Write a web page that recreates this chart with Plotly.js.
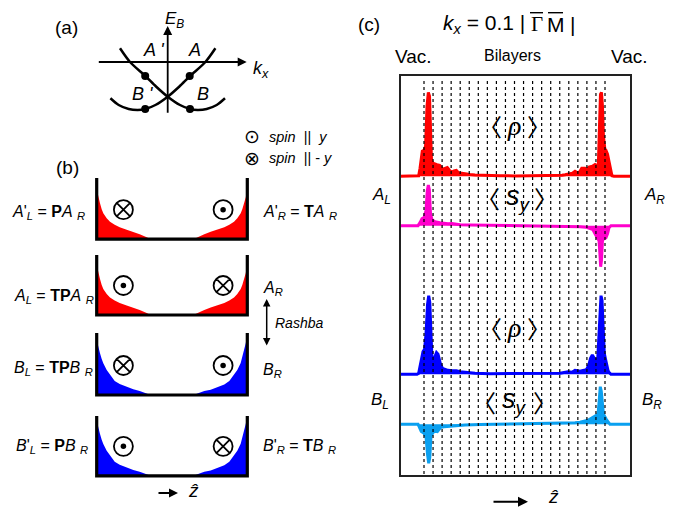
<!DOCTYPE html>
<html><head><meta charset="utf-8">
<script src="https://cdn.plot.ly/plotly-3.0.1.min.js"></script>
<style>html,body{margin:0;padding:0;background:#fff}</style>
</head><body><div id="chart" style="width:673px;height:510px"></div>
<script>
// ---------------- DATA ----------------
// (a) schematic Rashba-split bands: k_x and E_B (schematic units)
const bandOneK = [-0.954,-0.754,-0.448,-0.234,0,0.246,0.446,0.6,0.78,0.98,1.146];
const bandOneE = [0.274,0,-0.28,-0.49,-0.694,-0.86,-0.94,-0.96,-0.94,-0.86,-0.726];
const bandTwoK = [0.954,0.754,0.448,0.234,0,-0.246,-0.446,-0.6,-0.78,-0.98,-1.146];
const bandTwoE = [0.274,0,-0.28,-0.49,-0.694,-0.86,-0.94,-0.96,-0.94,-0.86,-0.726];
const stateK = [-0.45,0.44,-0.45,0.446];
const stateE = [-0.28,-0.28,-0.94,-0.94];
const stateNames = ["A '","A","B '","B"];
const stateLabelK = [-0.294,0.526,-0.514,0.706];
const stateLabelE = [0.24,0.24,-0.64,-0.64];

// (b) schematic surface-state densities across the slab (z along slab)
const wellZ = [0,1.5,3.3,5,6.6,10,13.3,18,23,30,36.6,43,50,54,96.6,100.6,107.6,114,120.6,127.6,132.6,137.3,140.6,144,145.6,147.3,149.1,150.6];
const redWellH = [50,42,36,30,26,21,17.5,14.5,12,9.5,7.5,5,2,0,0,2,5,7.5,9.5,12,14.5,17.5,21,26,30,36,42,52];
const blueWellH = [55,48,41.7,36,31.7,25,20,14,11,8,5.7,4,1.5,0,0,1.5,4,5.2,7.5,10.5,14,20,25,32,38,45,52,60];
const spinZ = [26.7,126.4];
const spinH = [29.5,29.5];
const wellSpins = [["-y","+y"],["+y","-y"],["-y","+y"],["+y","-y"]];

// (c) k_x = 0.1|GM| : density and spin profiles versus z (bilayer units)
const bilayerBoundaries = [0,1,2,3,4,5,6,7,8,9,10,11,12,13,14,15,16,17,18,19,20];
const zRhoA = [-2.65,-0.77,-0.59,-0.44,-0.28,-0.19,0,0.17,0.33,0.48,0.61,0.72,0.83,0.99,1.22,1.44,1.73,1.93,2.1,2.32,2.57,2.82,3.02,3.31,3.57,3.81,4.09,4.53,5.08,5.64,6.19,7.3,8.4,10.06,11.7,13.37,14.48,15.25,15.58,16.13,16.41,16.69,16.9,17.05,17.24,17.43,17.79,18.01,18.23,18.6,18.9,19.12,19.26,19.39,19.5,19.61,19.72,19.83,20.0,20.1,20.28,20.44,20.61,20.77,20.99,22.87];
const rhoA = [0,0,0.5,8,20,25,26,30,70,84,80,40,16,13,12,11.7,11,9,7,8,8.7,6,4,5.5,6,3.5,3,2.5,1.7,1.3,1,0.7,0.5,0.4,0.5,0.6,0.8,1,1.5,2,3,5,3.5,3,5,8,8,6.5,9.3,10,11.7,11,10,50,82,84,70,40,26,26,22,15,5,0.5,0,0];
const zSyA = [-2.65,-0.66,-0.44,-0.22,0,0.22,0.36,0.48,0.59,0.72,0.88,1.22,1.77,2.21,2.65,3.09,3.54,3.98,5.08,7.3,10.6,13.9,16.13,17.24,17.9,18.34,18.67,18.9,19.12,19.34,19.45,19.52,19.61,19.72,19.89,20.1,20.28,20.44,20.66,22.87];
const syA = [0,0,3,7,8,15,35,40.7,36,12,6,4,3,2.5,2,2.3,1.5,1,0.7,0.4,0.2,0,-0.5,-1,-1.5,-2.5,-4,-8,-12,-15,-30,-41,-35,-15,-12,-12,-8,-2,0,0];
const zRhoB = [-2.65,-0.77,-0.59,-0.36,-0.22,-0.11,0.06,0.22,0.39,0.52,0.64,0.77,0.88,1.05,1.22,1.38,1.55,1.71,1.85,2.04,2.29,2.65,3.09,3.57,3.98,4.53,5.64,7.3,10.06,12.82,14.48,15.03,15.91,16.35,16.69,17.24,17.68,17.98,18.23,18.4,18.6,18.78,18.95,19.2,19.34,19.45,19.56,19.67,19.78,19.92,20.06,20.19,20.33,20.44,20.66,22.87];
const rhoB = [0,0,1,12,20,22.7,25,40,70,78.6,72,35,16,14,18,21.7,20,14,9.3,6,5,4,3.5,3.5,2.5,2,1,0.6,0.5,0.5,0.7,1,2.5,2,4,3,4,5,10,16,19.3,17,14,16,40,70,78.6,74,45,21,15,7.7,4,2,0,0];
const zSyB = [-2.65,-0.66,-0.5,-0.3,0,0.22,0.39,0.52,0.64,0.77,0.99,1.22,1.47,1.66,1.85,2.21,2.65,3.09,3.54,4.53,6.19,8.4,12.82,15.03,16.69,17.24,17.79,18.12,18.49,18.86,19.23,19.37,19.48,19.59,19.72,19.83,20.14,20.33,20.55,22.87];
const syB = [0,0,-3,-7.3,-9,-12,-30,-39,-33,-12,-8.3,-7,-7.3,-5,-3,-2.5,-2,-1.5,-1,-0.6,-0.3,0,0.3,0.7,1.5,2,3,4,6,8,10,25,37.6,33,15,10,5,2,0,0];

// ---------------- LAYOUT HELPERS ----------------
const W = 673, H = 510;
const px = p => p / W;
const py = p => 1 - p / H;
function hAxis(leftPx, rightPx, originPx, pxPerUnit, anchor) {
  return {domain:[px(leftPx), px(rightPx)], range:[(leftPx-originPx)/pxPerUnit, (rightPx-originPx)/pxPerUnit],
          visible:false, fixedrange:true, anchor:anchor};
}
function vAxis(topPx, bottomPx, originPx, pxPerUnit, anchor) {
  return {domain:[py(bottomPx), py(topPx)], range:[(originPx-bottomPx)/pxPerUnit, (originPx-topPx)/pxPerUnit],
          visible:false, fixedrange:true, anchor:anchor};
}
const FONT = "Arial, 'Liberation Sans', sans-serif";
const CJK = "'Noto Sans CJK JP'";

// ---------------- TRACES ----------------
const traces = [];
// (a)
[[bandOneK, bandOneE],[bandTwoK, bandTwoE]].forEach(([k,e]) => traces.push({
  x:k, y:e, xaxis:'x', yaxis:'y', mode:'lines', line:{color:'black', width:2.5, shape:'spline', smoothing:0.8},
  hoverinfo:'skip', cliponaxis:false
}));
traces.push({x:stateK, y:stateE, xaxis:'x', yaxis:'y', mode:'markers', marker:{color:'black', size:8}, cliponaxis:false});

// (b)
const wellColors = ['#ff0000','#ff0000','#0000ff','#0000ff'];
const wellProfiles = [redWellH, redWellH, blueWellH, blueWellH];
for (let i = 0; i < 4; i++) {
  const ya = 'y' + (i + 2);
  traces.push({x:wellZ, y:wellProfiles[i], xaxis:'x2', yaxis:ya, mode:'lines', fill:'tozeroy',
    fillcolor:wellColors[i], line:{width:0, color:wellColors[i]}, hoverinfo:'skip'});
  traces.push({x:spinZ, y:spinH, xaxis:'x2', yaxis:ya, mode:'markers', cliponaxis:false,
    marker:{size:19, color:'black', symbol:wellSpins[i].map(s => s === '+y' ? 'circle-open' : 'circle-x-open'),
            line:{width:1.8, color:'black'}}});
  const dz = spinZ.filter((z, j) => wellSpins[i][j] === '+y');
  const dh = spinH.filter((h, j) => wellSpins[i][j] === '+y');
  traces.push({x:dz, y:dh, xaxis:'x2', yaxis:ya, mode:'markers', cliponaxis:false,
    marker:{size:5.5, color:'black', symbol:'circle'}});
}

// (c)
const cSeries = [[zRhoA, rhoA, '#ff0000', 'y6'], [zSyA, syA, '#ff00cc', 'y7'],
                 [zRhoB, rhoB, '#0000ff', 'y8'], [zSyB, syB, '#0aa0f0', 'y9']];
cSeries.forEach(([z, v, c, ya]) => traces.push({
  x:z, y:v, xaxis:'x3', yaxis:ya, mode:'lines', fill:'tozeroy', fillcolor:c,
  line:{color:c, width:3}, hoverinfo:'skip'
}));

// ---------------- SHAPES ----------------
const shapes = [];
shapes.push({type:'rect', xref:'paper', yref:'paper', x0:px(400), x1:px(631), y0:py(476), y1:py(75),
  line:{color:'#222', width:2}});
bilayerBoundaries.forEach(z => shapes.push({type:'line', xref:'x3', yref:'paper', x0:z, x1:z,
  y0:py(474), y1:py(78), line:{color:'black', width:1.2, dash:'dot'}}));
const wellTops = [178, 255, 333, 416], wellBottoms = [239.2, 315, 395, 475.8];
for (let i = 0; i < 4; i++) {
  const l = px(96.7), r = px(247.3), t = py(wellTops[i]), b = py(wellBottoms[i]);
  shapes.push({type:'path', xref:'paper', yref:'paper', path:`M${l},${t} L${l},${b} L${r},${b} L${r},${t}`,
    line:{color:'black', width:3.2}});
}
// overline over Gamma M
shapes.push({type:'line', xref:'paper', yref:'paper', x0:px(530), x1:px(543), y0:py(12.7), y1:py(12.7), line:{color:'black', width:1.4}});
shapes.push({type:'line', xref:'paper', yref:'paper', x0:px(548), x1:px(563), y0:py(12.7), y1:py(12.7), line:{color:'black', width:1.4}});

// ---------------- ANNOTATIONS ----------------
const ann = [];
function txt(text, x, y, size, opts, family) {
  ann.push(Object.assign({text:text, xref:'paper', yref:'paper', x:px(x), y:py(y), showarrow:false,
    xanchor:'center', yanchor:'middle', font:{family:family || FONT, size:size, color:'black'}}, opts || {}));
}
function arrow(xTip, yTip, ax, ay, w, both) {
  ann.push({text:'', xref:'paper', yref:'paper', x:px(xTip), y:py(yTip), ax:ax, ay:ay, showarrow:true,
    arrowhead:2, arrowsize:1, arrowwidth:w, arrowcolor:'black', arrowside: both ? 'end+start' : 'end'});
}
function bracketed(inner, innerFamily, innerSize, xl, xc, xr, y) {
  txt('\u3008', xl, y, 24, null, CJK);
  txt(inner, xc, y, innerSize, null, innerFamily);
  txt('\u3009', xr, y, 24, null, CJK);
}
// (a)
txt('(a)', 66, 27, 19);
ann.push({text:'', xref:'x', yref:'y', x:1.58, y:0, axref:'x', ayref:'y', ax:-1.408, ay:0, showarrow:true,
  arrowhead:2, arrowsize:1, arrowwidth:1.8, arrowcolor:'black'});
ann.push({text:'', xref:'x', yref:'y', x:0, y:0.72, axref:'x', ayref:'y', ax:0, ay:-1.046, showarrow:true,
  arrowhead:2, arrowsize:1, arrowwidth:1.8, arrowcolor:'black'});
txt('<i>E</i><sub><i>B</i></sub>', 174, 20, 17);
txt('<i>k</i><sub><i>x</i></sub>', 261, 70, 18);
stateNames.forEach((n, i) => ann.push({text:'<i>' + n + '</i>', xref:'x', yref:'y', x:stateLabelK[i], y:stateLabelE[i],
  showarrow:false, font:{family:FONT, size:18, color:'black'}}));

// (b)
txt('(b)', 67, 168, 19);
txt('\u2299', 251.7, 136.2, 19, null, 'DejaVu Sans');
txt('\u2297', 251.7, 158.2, 19, null, 'DejaVu Sans');
txt('<i>spin</i>  ||  <i>y</i>', 267, 136.7, 14.5, {xanchor:'left'});
txt('<i>spin</i>  || - <i>y</i>', 267, 157.7, 14.5, {xanchor:'left'});
txt("<i>A</i>'<sub><i>L</i></sub> = <b>P</b><i>A</i> <sub><i>R</i></sub>", 10, 212, 16, {xanchor:'left'});
txt("<i>A</i>'<sub><i>R</i></sub> = <b>T</b><i>A</i> <sub><i>R</i></sub>", 261, 212, 16, {xanchor:'left'});
txt("<i>A</i><sub><i>L</i></sub> = <b>TP</b><i>A</i> <sub><i>R</i></sub>", 12, 296, 16, {xanchor:'left'});
txt("<i>A</i><sub><i>R</i></sub>", 261, 288, 16, {xanchor:'left'});
arrow(266.7, 299, 0, 48, 1.5, true);
txt('<i>Rashba</i>', 299, 323, 14);
txt("<i>B</i><sub><i>L</i></sub> = <b>TP</b><i>B</i> <sub><i>R</i></sub>", 12, 368, 16, {xanchor:'left'});
txt("<i>B</i><sub><i>R</i></sub>", 261, 370, 16, {xanchor:'left'});
txt("<i>B</i>'<sub><i>L</i></sub> = <b>P</b><i>B</i> <sub><i>R</i></sub>", 14, 446, 16, {xanchor:'left'});
txt("<i>B</i>'<sub><i>R</i></sub> = <b>T</b><i>B</i> <sub><i>R</i></sub>", 261, 446, 16, {xanchor:'left'});
arrow(178, 493, -21, 0, 1.8, false);
txt('<i>\u1E91</i>', 193, 490, 19);

// (c)
txt('(c)', 369, 24, 19);
txt('<i>k</i><sub><i>x</i></sub> = 0.1 |', 527, 24, 21, {xanchor:'right'});
txt('\u0393', 537, 24, 21, null, 'Liberation Serif');
txt('M', 555.5, 24, 21);
txt('|', 572, 24, 21);
txt('Vac.', 413, 56, 19);
txt('Bilayers', 512, 55, 16);
txt('Vac.', 629, 56, 19);
bracketed('<i>\u03C1</i>', 'Liberation Serif', 28, 490, 514, 539, 125);
bracketed('<i>s</i><sub><i>y</i></sub>', FONT, 27, 488, 518, 546, 198);
bracketed('<i>\u03C1</i>', 'Liberation Serif', 28, 490, 514, 539, 327);
bracketed('<i>s</i><sub><i>y</i></sub>', FONT, 27, 484, 514, 545, 401);
txt('<i>A</i><sub><i>L</i></sub>', 381, 196, 17);
txt('<i>A</i><sub><i>R</i></sub>', 654, 196, 17);
txt('<i>B</i><sub><i>L</i></sub>', 380, 401, 17);
txt('<i>B</i><sub><i>R</i></sub>', 652, 401, 17);
arrow(528, 501.7, -36, 0, 2, false);
txt('<i>\u1E91</i>', 553, 496, 19);

// ---------------- LAYOUT ----------------
const layout = {
  width:W, height:H, margin:{l:0, r:0, t:0, b:0}, paper_bgcolor:'white', plot_bgcolor:'rgba(0,0,0,0)',
  showlegend:false, hovermode:false, font:{family:FONT},
  xaxis: hAxis(90, 262, 167.7, 50, 'y'),
  yaxis: vAxis(10, 122, 62, 50, 'x'),
  xaxis2: hAxis(90, 255, 96.7, 1, 'y2'),
  yaxis2: vAxis(170, 245, 239.2, 1, 'x2'),
  yaxis3: vAxis(250, 320, 315, 1, 'x2'),
  yaxis4: vAxis(328, 400, 395, 1, 'x2'),
  yaxis5: vAxis(410, 481, 475.8, 1, 'x2'),
  xaxis3: hAxis(400, 631, 424, 9.05, 'y6'),
  yaxis6: vAxis(80, 182, 176.3, 1, 'x3'),
  yaxis7: vAxis(182, 272, 225.7, 1, 'x3'),
  yaxis8: vAxis(272, 380, 374.3, 1, 'x3'),
  yaxis9: vAxis(380, 472, 424.3, 1, 'x3'),
  shapes:shapes, annotations:ann
};
Plotly.newPlot('chart', traces, layout, {staticPlot:true, displayModeBar:false});
</script></body></html>
